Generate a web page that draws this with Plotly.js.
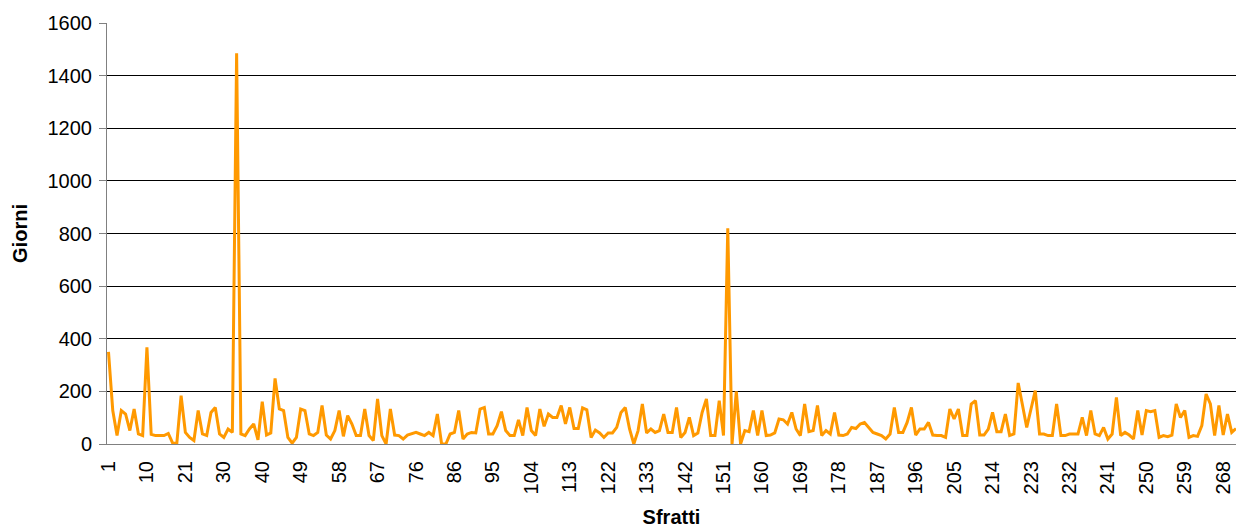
<!DOCTYPE html>
<html>
<head>
<meta charset="utf-8">
<script src="https://cdn.plot.ly/plotly-3.0.1.min.js"></script>
<style>
  html, body { margin: 0; padding: 0; background: #fff; }
  #chart { width: 1236px; height: 528px; }
</style>
</head>
<body>
<div id="chart"></div>
<script>
// Sfratti ID numbers that are absent from the sequence 1..271
const missingIds = [13, 14, 35, 80, 126, 127];
const lastId = 271;

// Days (Giorni) per eviction, in order
const giorni = [
  350, 127, 32, 127, 114, 51, 133, 38, 32, 367,
  37, 32, 32, 32, 40, 4, 3, 184, 44, 25,
  13, 127, 38, 32, 120, 139, 38, 25, 57, 44,
  1485, 38, 32, 57, 76, 16, 161, 34, 42, 249,
  133, 127, 25, 3, 25, 133, 127, 38, 32, 44,
  146, 34, 19, 51, 127, 29, 108, 76, 32, 32,
  133, 32, 13, 171, 32, 0, 133, 34, 32, 19,
  34, 38, 44, 38, 32, 44, 32, 114, 0, 0,
  38, 44, 127, 19, 38, 44, 42, 133, 139, 38,
  38, 70, 123, 51, 32, 32, 92, 32, 139, 51,
  32, 133, 67, 114, 101, 101, 146, 76, 139, 59,
  59, 137, 130, 25, 53, 42, 25, 42, 42, 63,
  120, 139, 57, 0, 51, 152, 42, 57, 44, 51,
  114, 44, 44, 139, 25, 44, 101, 32, 42, 120,
  171, 32, 32, 165, 32, 820, 0, 200, 0, 51,
  47, 127, 32, 127, 32, 34, 42, 95, 92, 76,
  120, 57, 32, 152, 47, 51, 146, 32, 51, 38,
  120, 34, 32, 38, 63, 59, 76, 82, 63, 44,
  38, 32, 19, 38, 139, 44, 44, 82, 139, 34,
  57, 57, 82, 34, 32, 32, 25, 133, 95, 133,
  32, 32, 152, 165, 34, 34, 57, 120, 47, 47,
  114, 32, 38, 232, 148, 63, 133, 203, 38, 38,
  32, 32, 152, 32, 32, 38, 38, 38, 101, 32,
  127, 38, 32, 63, 19, 38, 177, 32, 44, 34,
  19, 127, 34, 127, 123, 127, 25, 32, 28, 34,
  152, 101, 127, 25, 32, 29, 70, 190, 152, 32,
  146, 34, 114, 44, 59
];

// Category labels shown on the x axis
const tickLabels = ['1','10','21','30','40','49','58','67','76','86','95','104','113','122','133',
  '142','151','160','169','178','187','196','205','214','223','232','241','250','259','268'];

const yTicks = [0, 200, 400, 600, 800, 1000, 1200, 1400, 1600];

const sfratti = [];
for (let id = 1; id <= lastId; id++) {
  if (missingIds.indexOf(id) === -1) sfratti.push(String(id));
}

const FONT = 'Liberation Sans, Arial, sans-serif';

const trace = {
  type: 'scatter',
  mode: 'lines',
  x: sfratti,
  y: giorni,
  line: { color: '#FF9900', width: 3 },
  hoverinfo: 'x+y'
};

const layout = {
  width: 1236,
  height: 528,
  margin: { l: 107, r: 0, t: 23, b: 84 },
  paper_bgcolor: '#ffffff',
  plot_bgcolor: '#ffffff',
  showlegend: false,
  font: { family: FONT, size: 20, color: '#000' },
  xaxis: {
    type: 'category',
    range: [-0.35, sfratti.length - 1],
    tickmode: 'array',
    tickvals: tickLabels,
    ticktext: tickLabels,
    tickangle: -90,
    ticks: '',
    ticklabelstandoff: 8,
    showgrid: false,
    zeroline: false,
    showline: true,
    linecolor: '#808080',
    linewidth: 1,
    tickfont: { family: FONT, size: 20, color: '#000' },
    title: { text: '<b>Sfratti</b>', font: { family: FONT, size: 20, color: '#000' }, standoff: 16 },
    automargin: false,
    fixedrange: true
  },
  yaxis: {
    range: [0, 1600],
    tickmode: 'array',
    tickvals: yTicks,
    ticks: 'outside',
    ticklen: 7,
    tickcolor: '#808080',
    tickwidth: 1,
    ticklabelstandoff: 3,
    showgrid: true,
    gridcolor: '#000000',
    gridwidth: 1,
    zeroline: false,
    showline: true,
    linecolor: '#808080',
    linewidth: 1,
    tickfont: { family: FONT, size: 20, color: '#000' },
    title: { text: '<b>Giorni</b>', font: { family: FONT, size: 20, color: '#000' }, standoff: 14 },
    automargin: false,
    fixedrange: true
  }
};

Plotly.newPlot('chart', [trace], layout, { staticPlot: true, displayModeBar: false });
</script>
</body>
</html>
